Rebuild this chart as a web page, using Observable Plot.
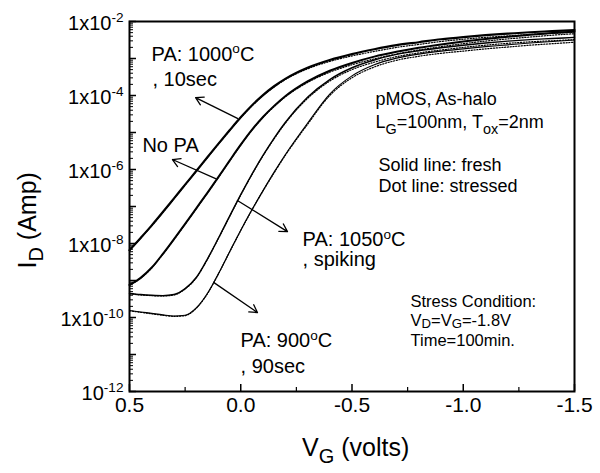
<!DOCTYPE html>
<html>
<head>
<meta charset="utf-8">
<script src="https://cdn.jsdelivr.net/npm/d3@7"></script>
<script src="https://cdn.jsdelivr.net/npm/@observablehq/plot@0.6"></script>
<style>
  html, body { margin: 0; padding: 0; background: #fff; }
  #chart svg { display: block; }
</style>
</head>
<body>
<div id="chart"></div>
<script>
// Gate voltage sweep, volts
const vg = [0.5, 0.45, 0.4, 0.35, 0.3, 0.25, 0.2, 0.15, 0.1, 0.05, 0, -0.05, -0.1, -0.15, -0.2,
            -0.3, -0.4, -0.5, -0.6, -0.7, -0.8, -0.9, -1.0, -1.1, -1.2, -1.3, -1.4, -1.5];

// Drain current as log10(I_D / A), fresh and after stress, for each post-anneal condition
const pa1000Fresh    = [-8.18, -7.85, -7.51, -7.15, -6.78, -6.41, -6.04, -5.67, -5.30, -4.94, -4.59, -4.27, -3.99, -3.75, -3.55,
                        -3.25, -3.04, -2.88, -2.75, -2.64, -2.56, -2.48, -2.42, -2.37, -2.33, -2.29, -2.26, -2.23];
const pa1000Stressed = [-8.19, -7.86, -7.52, -7.16, -6.79, -6.42, -6.05, -5.68, -5.31, -4.95, -4.60, -4.28, -4.00, -3.77, -3.57,
                        -3.28, -3.08, -2.93, -2.81, -2.70, -2.62, -2.54, -2.48, -2.43, -2.39, -2.35, -2.32, -2.29];
const noPaFresh      = [-9.12, -8.93, -8.65, -8.28, -7.88, -7.47, -7.05, -6.63, -6.20, -5.76, -5.33, -4.93, -4.58, -4.28, -4.02,
                        -3.62, -3.33, -3.12, -2.95, -2.82, -2.71, -2.62, -2.54, -2.47, -2.41, -2.36, -2.31, -2.27];
const noPaStressed   = [-9.13, -8.94, -8.66, -8.29, -7.89, -7.48, -7.06, -6.64, -6.21, -5.77, -5.34, -4.94, -4.59, -4.30, -4.04,
                        -3.65, -3.37, -3.17, -3.01, -2.88, -2.77, -2.68, -2.60, -2.53, -2.47, -2.42, -2.37, -2.33];
const pa1050Fresh    = [-9.35, -9.38, -9.40, -9.41, -9.38, -9.22, -8.92, -8.42, -7.85, -7.26, -6.68, -6.13, -5.62, -5.15, -4.73,
                        -4.05, -3.57, -3.25, -3.04, -2.89, -2.79, -2.71, -2.64, -2.58, -2.53, -2.49, -2.46, -2.43];
const pa1050Stressed = [-9.36, -9.39, -9.41, -9.42, -9.39, -9.23, -8.93, -8.43, -7.86, -7.27, -6.69, -6.14, -5.63, -5.17, -4.75,
                        -4.08, -3.61, -3.30, -3.10, -2.95, -2.85, -2.77, -2.70, -2.64, -2.59, -2.55, -2.52, -2.49];
const pa900Fresh     = [-9.81, -9.85, -9.89, -9.93, -9.96, -9.94, -9.74, -9.35, -8.81, -8.22, -7.64, -7.09, -6.57, -6.07, -5.60,
                        -4.75, -3.96, -3.47, -3.17, -2.99, -2.88, -2.80, -2.74, -2.68, -2.63, -2.58, -2.54, -2.50];
const pa900Stressed  = [-9.82, -9.86, -9.90, -9.94, -9.97, -9.95, -9.75, -9.36, -8.82, -8.23, -7.65, -7.10, -6.58, -6.09, -5.62,
                        -4.78, -4.00, -3.52, -3.23, -3.05, -2.94, -2.86, -2.80, -2.74, -2.69, -2.64, -2.60, -2.56];

// Axis ticks and labels
const xMajor = [0.5, 0, -0.5, -1.0, -1.5];
const xMinor = [0.25, -0.25, -0.75, -1.25];
const xTickLabels = ["0.5", "0.0", "-0.5", "-1.0", "-1.5"];
const yDecades = [1e-12, 1e-11, 1e-10, 1e-9, 1e-8, 1e-7, 1e-6, 1e-5, 1e-4, 1e-3, 1e-2];
const yLabelled = [1e-2, 1e-4, 1e-6, 1e-8, 1e-10, 1e-12];
const yTickLabels = ["1x10^{-2}", "1x10^{-4}", "1x10^{-6}", "1x10^{-8}", "1x10^{-10}", "10^{-12}"];

// Curve annotations: label lines (start point) and arrows (tail on curve -> head)
const curveLabels = [
  {text: "PA: 1000^{o}C", vg: 0.401, id: 8.8e-4},
  {text: ", 10sec",       vg: 0.397, id: 1.86e-4},
  {text: "No PA",         vg: 0.442, id: 2.9e-6},
  {text: "PA: 1050^{o}C", vg: -0.278, id: 8.3e-9},
  {text: ", spiking",     vg: -0.278, id: 2.4e-9},
  {text: "PA: 900^{o}C",  vg: 0.001, id: 1.55e-11},
  {text: ", 90sec",       vg: 0.001, id: 3.2e-12}
];
const arrows = [
  {vg1: 0.015, id1: 2.4e-5,  vg2: 0.203,  id2: 8.8e-5},
  {vg1: 0.113, id1: 5.7e-7,  vg2: 0.307,  id2: 1.86e-6},
  {vg1: 0.015, id1: 1.45e-7, vg2: -0.210, id2: 2.1e-8},
  {vg1: 0.122, id1: 8.9e-10, vg2: -0.075, id2: 1.36e-10}
];
const deviceInfo = [
  {text: "pMOS, As-halo",             vg: -0.606, id: 5.4e-5},
  {text: "L_{G}=100nm, T_{ox}=2nm",   vg: -0.606, id: 1.29e-5},
  {text: "Solid line: fresh",         vg: -0.619, id: 9.3e-7},
  {text: "Dot line: stressed",        vg: -0.619, id: 2.4e-7}
];
const stressInfo = [
  {text: "Stress Condition:",   vg: -0.763, id: 1.9e-10},
  {text: "V_{D}=V_{G}=-1.8V",   vg: -0.763, id: 6.0e-11},
  {text: "Time=100min.",        vg: -0.763, id: 1.65e-11}
];

const curves = [
  {fresh: pa1000Fresh, stressed: pa1000Stressed, width: 2.2},
  {fresh: noPaFresh,   stressed: noPaStressed,   width: 2.0},
  {fresh: pa1050Fresh, stressed: pa1050Stressed, width: 1.4},
  {fresh: pa900Fresh,  stressed: pa900Stressed,  width: 1.15}
];

const W = 600, H = 473;
const M = {top: 21, right: 26, bottom: 82, left: 129};
const plotW = W - M.left - M.right, plotH = H - M.top - M.bottom;

const minorY = yDecades.slice(0, -1).flatMap(d => [2, 3, 4, 5, 6, 7, 8, 9].map(k => k * d));

const rowsOf = (arr) => vg.map((v, i) => ({vg: v, id: 10 ** arr[i]}));
const curveMarks = curves.flatMap(c => [
  Plot.line(rowsOf(c.fresh), {x: "vg", y: "id", stroke: "#000", strokeWidth: c.width,
    curve: "monotone-x"}),
  Plot.line(rowsOf(c.stressed), {x: "vg", y: "id", stroke: "#000", strokeWidth: 1.2,
    strokeDasharray: "1.2,1.6", curve: "monotone-x"})
]);

const font = "'Liberation Sans', Arial, Helvetica, sans-serif";

const chart = Plot.plot({
  width: W, height: H,
  marginTop: M.top, marginRight: M.right, marginBottom: M.bottom, marginLeft: M.left,
  style: {fontFamily: font, color: "#000", background: "#fff"},
  x: {type: "linear", domain: [0.5, -1.5], axis: null},
  y: {type: "log", domain: [1e-12, 1e-2], axis: null},
  marks: [
    // inward ticks
    Plot.tickX(xMajor, {x: d => d, insetTop: plotH - 7, stroke: "#000", strokeWidth: 1.5}),
    Plot.tickX(xMinor, {x: d => d, insetTop: plotH - 4, stroke: "#000", strokeWidth: 1.2}),
    Plot.tickY(yDecades, {y: d => d, insetRight: plotW - 7, stroke: "#000", strokeWidth: 1.5}),
    Plot.tickY(minorY, {y: d => d, insetRight: plotW - 4, stroke: "#000", strokeWidth: 1}),
    // tick labels
    Plot.text(xMajor, {x: d => d, frameAnchor: "bottom", dy: 20,
      text: (d, i) => xTickLabels[i], fontSize: 21, fill: "#000"}),
    Plot.text(yLabelled, {y: d => d, frameAnchor: "left", dx: -6, dy: 2, textAnchor: "end",
      text: (d, i) => yTickLabels[i], fontSize: 20, fill: "#000"}),
    // axis titles
    Plot.text(["V_{G} (volts)"], {frameAnchor: "bottom", dx: -50, dy: 64, textAnchor: "start",
      lineAnchor: "bottom", fontSize: 25, fill: "#000"}),
    Plot.text(["I_{D} (Amp)"], {frameAnchor: "left", dx: -94, dy: 62, rotate: -90,
      textAnchor: "start", lineAnchor: "bottom", fontSize: 25, fill: "#000"}),
    ...curveMarks,
    Plot.arrow(arrows, {x1: "vg1", y1: "id1", x2: "vg2", y2: "id2", stroke: "#000",
      strokeWidth: 1.3, headLength: 10}),
    Plot.text(curveLabels, {x: "vg", y: "id", text: "text", textAnchor: "start",
      lineAnchor: "bottom", fontSize: 20, fill: "#000"}),
    Plot.text(deviceInfo, {x: "vg", y: "id", text: "text", textAnchor: "start",
      lineAnchor: "bottom", fontSize: 18, fill: "#000"}),
    Plot.text(stressInfo, {x: "vg", y: "id", text: "text", textAnchor: "start",
      lineAnchor: "bottom", fontSize: 16.5, fill: "#000"}),
    Plot.frame({stroke: "#000", strokeWidth: 2})
  ]
});

document.getElementById("chart").appendChild(chart);

// Turn ^{...} and _{...} into raised / lowered tspans
function richText(svg) {
  svg.querySelectorAll("text").forEach(el => {
    const s = el.textContent;
    if (!/[\^_]\{/.test(s)) return;
    const fs = parseFloat(getComputedStyle(el).fontSize);
    const subDrop = fs <= 17 ? 0.12 : 0.3;
    el.textContent = "";
    const re = /([\^_])\{([^}]*)\}/g;
    let last = 0, m, shift = 0;
    const add = (txt, kind) => {
      const t = document.createElementNS("http://www.w3.org/2000/svg", "tspan");
      const target = kind === "^" ? -0.38 * fs : kind === "_" ? subDrop * fs : 0;
      if (target !== shift) { t.setAttribute("dy", target - shift); shift = target; }
      if (kind) t.setAttribute("font-size", (kind === "^" ? 0.68 : 0.8) * fs);
      t.textContent = txt;
      el.appendChild(t);
    };
    while ((m = re.exec(s))) {
      if (m.index > last) add(s.slice(last, m.index), null);
      add(m[2], m[1]);
      last = re.lastIndex;
    }
    if (last < s.length) add(s.slice(last), null);
  });
}
richText(chart);
</script>
</body>
</html>
